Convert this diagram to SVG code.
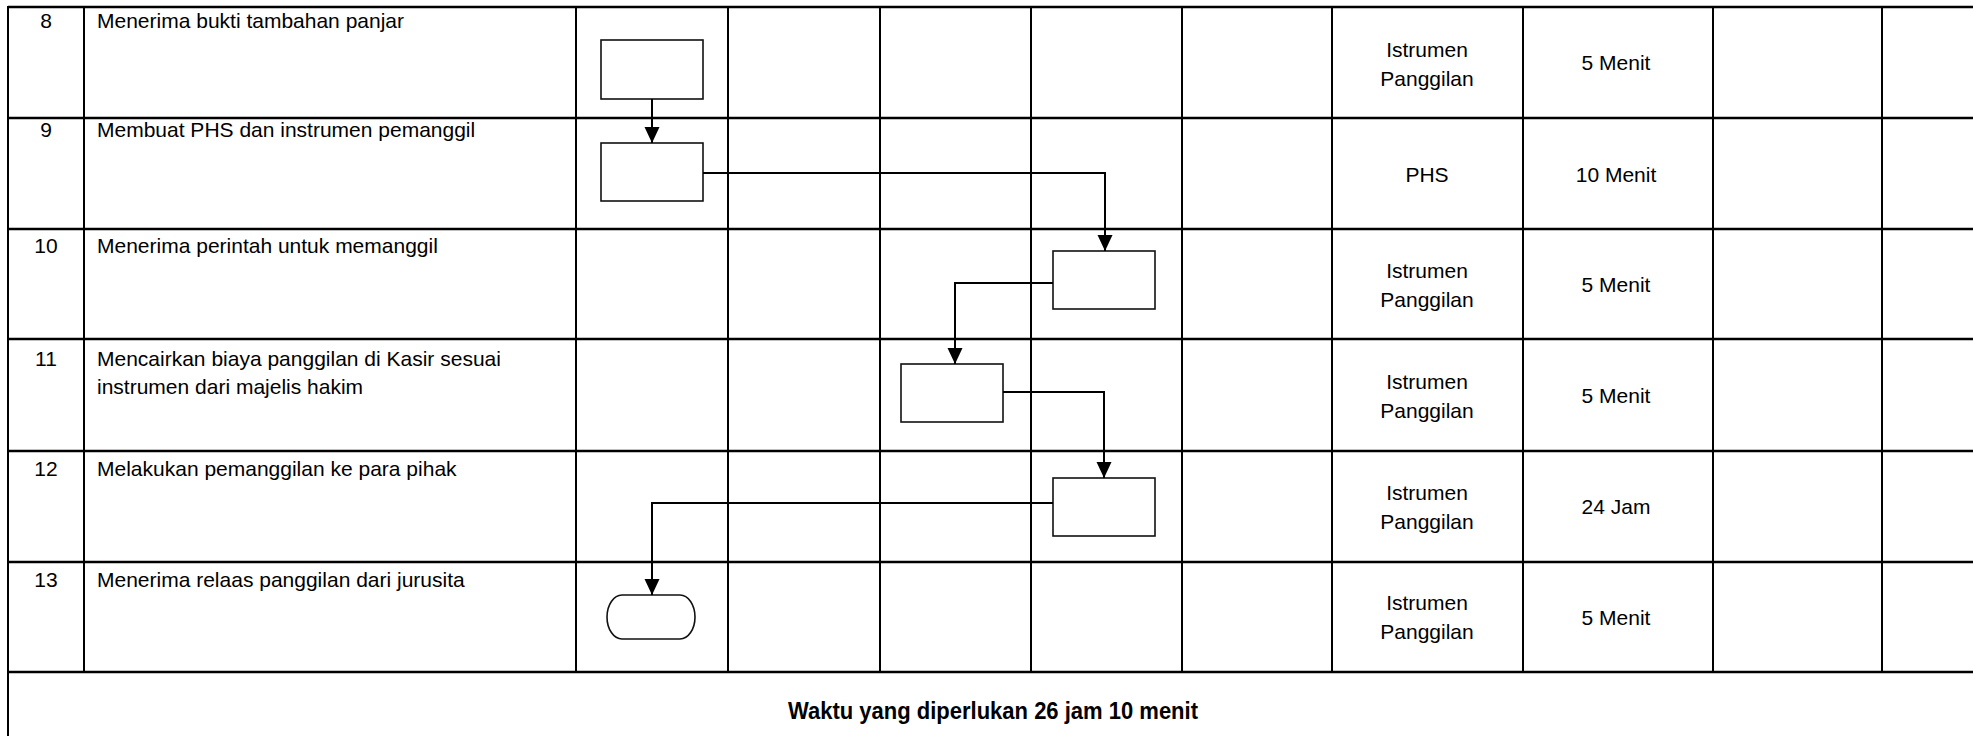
<svg xmlns="http://www.w3.org/2000/svg" width="1973" height="736" viewBox="0 0 1973 736">
<style>
.bg{fill:#fff}
.h{stroke:#000;stroke-width:2.5;fill:none}
.v{stroke:#000;stroke-width:2;fill:none}
.box{fill:#fff;stroke:#111;stroke-width:1.6}
.con{fill:none;stroke:#000;stroke-width:2}
text{font-family:"Liberation Sans",Arial,sans-serif;font-size:21px;fill:#000}
.c{text-anchor:middle}
.b{font-weight:bold;font-size:24px}
</style>
<defs>
<marker id="arr" markerUnits="userSpaceOnUse" markerWidth="16" markerHeight="16" viewBox="0 0 16 16" refX="16" refY="8" orient="auto">
<path d="M0,0.5 L16,8 L0,15.5 z" fill="#000"/>
</marker>
</defs>
<rect class="bg" x="0" y="0" width="1973" height="736"/>
<g id="grid">
<line class="h" x1="8" y1="7" x2="1973" y2="7"/>
<line class="h" x1="8" y1="118" x2="1973" y2="118"/>
<line class="h" x1="8" y1="229" x2="1973" y2="229"/>
<line class="h" x1="8" y1="339" x2="1973" y2="339"/>
<line class="h" x1="8" y1="451" x2="1973" y2="451"/>
<line class="h" x1="8" y1="562" x2="1973" y2="562"/>
<line class="h" x1="8" y1="672" x2="1973" y2="672"/>
<line class="v" x1="8" y1="6" x2="8" y2="736"/>
<line class="v" x1="84" y1="6" x2="84" y2="672"/>
<line class="v" x1="576" y1="6" x2="576" y2="672"/>
<line class="v" x1="728" y1="6" x2="728" y2="672"/>
<line class="v" x1="880" y1="6" x2="880" y2="672"/>
<line class="v" x1="1031" y1="6" x2="1031" y2="672"/>
<line class="v" x1="1182" y1="6" x2="1182" y2="672"/>
<line class="v" x1="1332" y1="6" x2="1332" y2="672"/>
<line class="v" x1="1523" y1="6" x2="1523" y2="672"/>
<line class="v" x1="1713" y1="6" x2="1713" y2="672"/>
<line class="v" x1="1882" y1="6" x2="1882" y2="672"/>
</g>
<g id="row8">
<text class="c" x="46" y="28">8</text>
<text x="97" y="28">Menerima bukti tambahan panjar</text>
<text class="c" x="1427" y="57">Istrumen</text>
<text class="c" x="1427" y="86">Panggilan</text>
<text class="c" x="1616" y="70">5 Menit</text>
</g>
<g id="row9">
<text class="c" x="46" y="137">9</text>
<text x="97" y="137">Membuat PHS dan instrumen pemanggil</text>
<text class="c" x="1427" y="182">PHS</text>
<text class="c" x="1616" y="182">10 Menit</text>
</g>
<g id="row10">
<text class="c" x="46" y="253">10</text>
<text x="97" y="253">Menerima perintah untuk memanggil</text>
<text class="c" x="1427" y="278">Istrumen</text>
<text class="c" x="1427" y="307">Panggilan</text>
<text class="c" x="1616" y="292">5 Menit</text>
</g>
<g id="row11">
<text class="c" x="46" y="366">11</text>
<text x="97" y="366">Mencairkan biaya panggilan di Kasir sesuai</text>
<text x="97" y="394">instrumen dari majelis hakim</text>
<text class="c" x="1427" y="389">Istrumen</text>
<text class="c" x="1427" y="418">Panggilan</text>
<text class="c" x="1616" y="403">5 Menit</text>
</g>
<g id="row12">
<text class="c" x="46" y="476">12</text>
<text x="97" y="476">Melakukan pemanggilan ke para pihak</text>
<text class="c" x="1427" y="500">Istrumen</text>
<text class="c" x="1427" y="529">Panggilan</text>
<text class="c" x="1616" y="514">24 Jam</text>
</g>
<g id="row13">
<text class="c" x="46" y="587">13</text>
<text x="97" y="587">Menerima relaas panggilan dari jurusita</text>
<text class="c" x="1427" y="610">Istrumen</text>
<text class="c" x="1427" y="639">Panggilan</text>
<text class="c" x="1616" y="625">5 Menit</text>
</g>
<g id="footer">
<text class="b" x="788" y="719" textLength="410" lengthAdjust="spacingAndGlyphs">Waktu yang diperlukan 26 jam 10 menit</text>
</g>
<g id="node8"><rect class="box" x="601" y="40" width="102" height="59"/></g>
<g id="node9"><rect class="box" x="601" y="143" width="102" height="58"/></g>
<g id="node10"><rect class="box" x="1053" y="251" width="102" height="58"/></g>
<g id="node11"><rect class="box" x="901" y="364" width="102" height="58"/></g>
<g id="node12"><rect class="box" x="1053" y="478" width="102" height="58"/></g>
<g id="node13"><rect class="box" x="607" y="595" width="88" height="44" rx="15" ry="22"/></g>
<g id="connectors">
<path class="con" d="M652,99 V143" marker-end="url(#arr)"/>
<path class="con" d="M703,173 H1105 V251" marker-end="url(#arr)"/>
<path class="con" d="M1053,283 H955 V364" marker-end="url(#arr)"/>
<path class="con" d="M1003,392 H1104 V478" marker-end="url(#arr)"/>
<path class="con" d="M1053,503 H652 V595" marker-end="url(#arr)"/>
</g>
</svg>
